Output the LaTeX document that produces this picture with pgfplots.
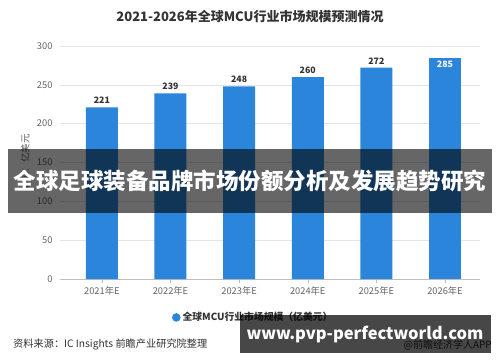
\documentclass[border=0pt]{standalone}
\usepackage{pgfplots}
\pgfplotsset{compat=1.18}
\usepackage{fontspec}
\setmainfont{Noto Sans CJK SC}
\definecolor{barblue}{RGB}{43,133,218}
\definecolor{titlegray}{RGB}{51,51,51}
\definecolor{tickgray}{RGB}{100,100,100}
\definecolor{gridgray}{RGB}{228,228,228}
\definecolor{axisgray}{RGB}{190,190,190}
\begin{document}
\begin{tikzpicture}[x=1pt,y=1pt]
\path[use as bounding box] (0,0) rectangle (500,362);
\fill[white] (0,0) rectangle (500,362);
\begin{axis}[at={(60pt,83pt)}, anchor=south west, scale only axis,
  width=420pt, height=233pt,
  /pgf/number format/assume math mode=true,
  xmin=-0.61, xmax=5.51, ymin=0, ymax=300,
  ytick={0,50,...,300},
  xtick={0,1,2,3,4,5},
  xticklabels={2021年E,2022年E,2023年E,2024年E,2025年E,2026年E},
  axis x line=bottom, axis y line=left,
  x axis line style={draw=axisgray,-},
  y axis line style={draw=none},
  ytick style={draw=none},
  xtick style={draw=axisgray},
  xtick align=outside, major tick length=4pt,
  ymajorgrids, grid style={gridgray},
  tick label style={font=\fontsize{9.3}{11}\selectfont, color=tickgray},
  yticklabel style={xshift=-2pt},
  ylabel={单位：亿美元},
  ylabel style={at={(axis description cs:-0.083,0.5)}, anchor=center, font=\fontsize{9.5}{11}\selectfont, color=tickgray},
  legend style={at={(axis description cs:0.46,-0.165)}, anchor=center, draw=none, fill=none,
    font=\bfseries\fontsize{9.8}{11}\selectfont, text=titlegray},
  legend image code/.code={\fill[barblue] (0.12cm,0) circle (4.3pt);},
]
\addplot[ybar, bar width=32pt, fill=barblue, draw=none,
  nodes near coords,
  nodes near coords style={font=\bfseries\fontsize{8.8}{10}\selectfont, color=titlegray}]
  coordinates {(0,221) (1,239) (2,248) (3,260) (4,272)};
\addlegendentry{全球MCU行业市场规模（亿美元）}
\addplot[ybar, bar width=32pt, fill=barblue, draw=none, forget plot,
  nodes near coords,
  nodes near coords style={anchor=north, font=\bfseries\fontsize{8.8}{10}\selectfont, color=white}]
  coordinates {(5,285)};
\end{axis}
\node[font=\bfseries\fontsize{13}{14}\selectfont, color=titlegray] at (250,345) {2021-2026年全球MCU行业市场规模预测情况};
\node[anchor=west, font=\fontsize{10.2}{12}\selectfont, color=titlegray, inner sep=0] at (13,18) {资料来源：IC Insights 前瞻产业研究院整理};
\node[anchor=east, font=\fontsize{10}{12}\selectfont, color=titlegray, inner sep=0] at (492,17) {@前瞻经济学人APP};
\fill[black, opacity=0.6] (8,149) rectangle (492,213);
\node[white, font=\bfseries\fontsize{22.5}{24}\selectfont, inner sep=0] at (250,181) {全球足球装备品牌市场份额分析及发展趋势研究};
\fill[black, opacity=0.72] (240,9) rectangle (491,47);
\node[white, font=\bfseries\fontsize{16.5}{18}\selectfont, inner sep=0] at (365,28) {www.pvp-perfectworld.com};
\end{tikzpicture}
\end{document}
